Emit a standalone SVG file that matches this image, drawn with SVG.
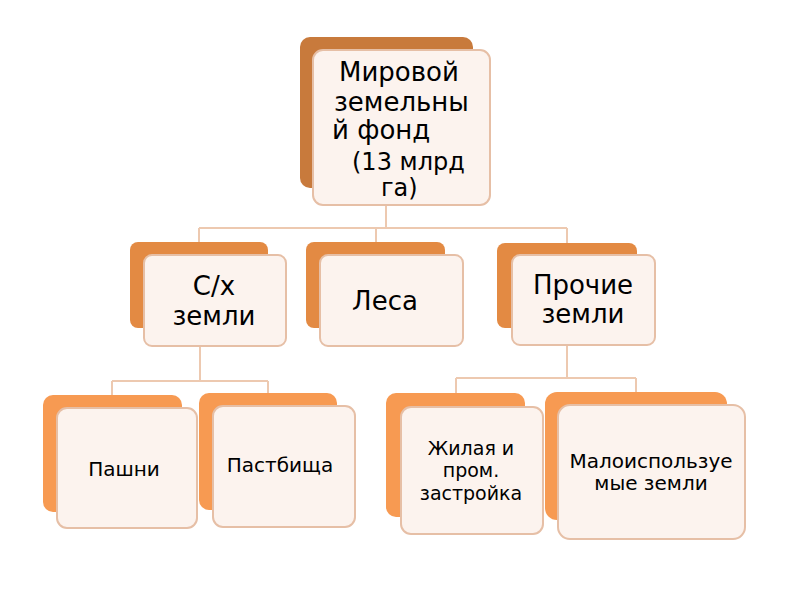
<svg xmlns="http://www.w3.org/2000/svg" width="800" height="600" viewBox="0 0 800 600">
<style>
.front{fill:#FCF3EE;stroke:#E6BFA6;stroke-width:2}
.b1{fill:#C87A3C}
.b2{fill:#E38A43}
.b3{fill:#F79A52}
.conn{fill:none;stroke:#EDC9B0;stroke-width:2}
text{font-family:"DejaVu Sans","Noto Sans",sans-serif;fill:#000}
.t1{font-size:26px}
.t1s{font-size:24px}
.t2{font-size:26px;text-anchor:middle}
.t3{font-size:20px;text-anchor:middle}
.t3s{font-size:19px;text-anchor:middle}
</style>
<rect width="800" height="600" fill="#fff"/>
<g id="connectors">
<path class="conn" d="M386 205V228M199 228H567M199 228V243M376 228V243M567 228V243"/>
<path class="conn" d="M200 346V381M112 381H268M112 381V395M268 381V393"/>
<path class="conn" d="M567 345V378M456 378H636M456 378V393M636 378V392"/>
</g>
<g id="n-world">
<rect class="b1" x="300" y="37" width="173" height="151" rx="10"/>
<rect class="front" x="313" y="50" width="177" height="155" rx="10"/>
<text class="t1" x="339" y="81">Мировой</text>
<text class="t1" x="334" y="111">земельны</text>
<text class="t1" x="332" y="139">й фонд</text>
<text class="t1s" x="352" y="170">(13 млрд</text>
<text class="t1s" x="381" y="196">га)</text>
</g>
<g id="n-agri">
<rect class="b2" x="130" y="242" width="138" height="86" rx="8"/>
<rect class="front" x="144" y="255" width="142" height="91" rx="8"/>
<text class="t2" x="214" y="295">С/х</text>
<text class="t2" x="214" y="325">земли</text>
</g>
<g id="n-forest">
<rect class="b2" x="306" y="242" width="139" height="86" rx="8"/>
<rect class="front" x="320" y="255" width="143" height="91" rx="8"/>
<text class="t2" x="385" y="310">Леса</text>
</g>
<g id="n-other">
<rect class="b2" x="497" y="243" width="140" height="85" rx="8"/>
<rect class="front" x="512" y="255" width="143" height="90" rx="8"/>
<text class="t2" x="583" y="294">Прочие</text>
<text class="t2" x="583" y="323">земли</text>
</g>
<g id="n-arable">
<rect class="b3" x="43" y="395" width="139" height="117" rx="10"/>
<rect class="front" x="57" y="408" width="140" height="120" rx="10"/>
<text class="t3" x="124" y="476">Пашни</text>
</g>
<g id="n-pasture">
<rect class="b3" x="199" y="393" width="138" height="117" rx="10"/>
<rect class="front" x="213" y="406" width="142" height="121" rx="10"/>
<text class="t3" x="280" y="472">Пастбища</text>
</g>
<g id="n-built">
<rect class="b3" x="386" y="393" width="139" height="124" rx="10"/>
<rect class="front" x="401" y="407" width="142" height="127" rx="10"/>
<text class="t3s" x="471" y="455">Жилая и</text>
<text class="t3s" x="471" y="477">пром.</text>
<text class="t3s" x="471" y="500">застройка</text>
</g>
<g id="n-unused">
<rect class="b3" x="545" y="392" width="182" height="128" rx="12"/>
<rect class="front" x="558" y="405" width="187" height="134" rx="12"/>
<text class="t3" x="651" y="468">Малоиспользуе</text>
<text class="t3" x="651" y="490">мые земли</text>
</g>
</svg>
